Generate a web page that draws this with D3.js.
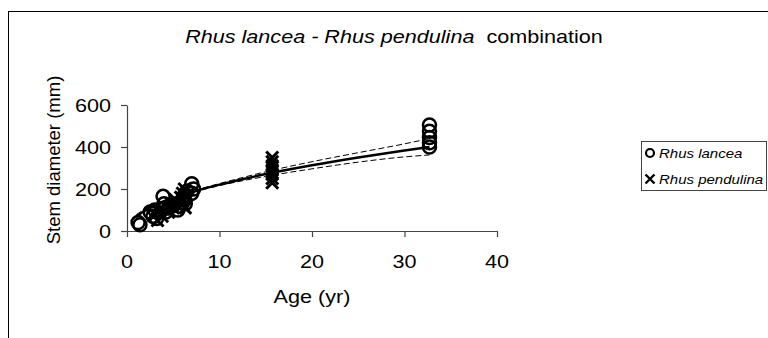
<!DOCTYPE html>
<html>
<head>
<meta charset="utf-8">
<script src="https://cdn.jsdelivr.net/npm/d3@7"></script>
<style>
  body { margin: 0; background: #fff; }
  text { font-family: "Liberation Sans", Arial, sans-serif; fill: #000; }
</style>
</head>
<body>
<script>
// Rhus lancea (circles)
var lanceaAge = [1.2, 1.4, 2.5, 2.8, 3.0, 3.2, 3.9, 4.0, 4.2, 4.5, 5.0, 5.5, 6.0, 6.2, 6.3, 6.5, 7.0, 7.0, 7.2, 32.7, 32.7, 32.7, 32.7, 32.7];
var lanceaDiam = [40, 30, 90, 70, 100, 60, 165, 130, 90, 110, 120, 100, 150, 170, 130, 190, 225, 180, 200, 400, 420, 445, 475, 505];

// Rhus pendulina (crosses)
var pendulinaAge = [3.0, 3.3, 3.5, 3.8, 4.5, 4.8, 5.0, 5.2, 5.5, 5.8, 6.0, 6.0, 6.2, 6.3, 6.5, 15.7, 15.7, 15.7, 15.7, 15.7, 15.7, 15.7];
var pendulinaDiam = [80, 50, 100, 70, 90, 130, 110, 150, 120, 160, 180, 140, 200, 110, 170, 230, 250, 270, 290, 310, 330, 350];

// fitted curve and confidence limits
var fitAge = [1, 2, 4, 6, 8, 10, 12, 15, 20, 25, 30, 32.7];
var fitMid = [70, 99, 140, 171, 198, 221, 242, 271, 313, 350, 383, 400];
var fitUpper = [78, 106, 146, 176, 202, 226, 249, 282, 330, 373, 415, 440];
var fitLower = [62, 92, 134, 166, 194, 216, 235, 260, 296, 328, 353, 362];

var xTicks = [0, 10, 20, 30, 40];
var yTicks = [0, 200, 400, 600];

// the chart picture is stretched sideways a little
var sx = 1.2;

var svg = d3.select("body").append("svg")
    .attr("width", 768)
    .attr("height", 338);

// outer frame
svg.append("rect")
    .attr("x", 8.5).attr("y", 11.5)
    .attr("width", 800).attr("height", 400)
    .attr("fill", "none").attr("stroke", "#000").attr("stroke-width", 1);

var xScale = d3.scaleLinear().domain([0, 40]).range([127, 497]);
var yScale = d3.scaleLinear().domain([0, 600]).range([231, 105]);

var xAxis = svg.append("g")
    .attr("transform", "translate(0,231)")
    .call(d3.axisBottom(xScale).tickValues(xTicks).tickSize(6).tickSizeOuter(0).tickFormat(""));
var yAxis = svg.append("g")
    .attr("transform", "translate(127,0)")
    .call(d3.axisLeft(yScale).tickValues(yTicks).tickSize(6).tickSizeOuter(0).tickFormat(""));

[xAxis, yAxis].forEach(function(ax) {
    ax.selectAll("path, line").attr("stroke", "#444").attr("stroke-width", 1.2);
});

function stretchText(x, y, anchor, size) {
    return svg.append("text")
        .attr("transform", "translate(" + x + "," + y + ") scale(" + sx + ",1)")
        .attr("text-anchor", anchor)
        .style("font-size", size + "px");
}

xTicks.forEach(function(t) {
    stretchText(xScale(t), 268, "middle", 18).text(t);
});
yTicks.forEach(function(t) {
    stretchText(111, yScale(t) + 6.5, "end", 18).text(t);
});

// fit lines
var line = d3.line()
    .x(function(d) { return xScale(d[0]); })
    .y(function(d) { return yScale(d[1]); })
    .curve(d3.curveMonotoneX);

[fitUpper, fitLower].forEach(function(arr) {
    svg.append("path")
        .datum(fitAge.map(function(a, i) { return [a, arr[i]]; }))
        .attr("d", line)
        .attr("fill", "none").attr("stroke", "#000")
        .attr("stroke-width", 1).attr("stroke-dasharray", "6,3");
});

svg.append("path")
    .datum(fitAge.map(function(a, i) { return [a, fitMid[i]]; }))
    .attr("d", line)
    .attr("fill", "none").attr("stroke", "#000").attr("stroke-width", 2.5);

// circles
svg.append("g").selectAll("circle")
    .data(lanceaAge.map(function(a, i) { return [a, lanceaDiam[i]]; }))
    .join("circle")
    .attr("cx", function(d) { return xScale(d[0]); })
    .attr("cy", function(d) { return yScale(d[1]); })
    .attr("r", 6.5)
    .attr("fill", "none").attr("stroke", "#000").attr("stroke-width", 2.5);

// crosses
var xs = 6;
svg.append("g").selectAll("path")
    .data(pendulinaAge.map(function(a, i) { return [a, pendulinaDiam[i]]; }))
    .join("path")
    .attr("transform", function(d) { return "translate(" + xScale(d[0]) + "," + yScale(d[1]) + ")"; })
    .attr("d", "M" + -xs + "," + -xs + "L" + xs + "," + xs + "M" + -xs + "," + xs + "L" + xs + "," + -xs)
    .attr("stroke", "#000").attr("stroke-width", 3);

// title
var title = stretchText(394, 43, "middle", 18);
title.append("tspan").attr("font-style", "italic").text("Rhus lancea - Rhus pendulina");
title.append("tspan").text("\u00a0 combination");

// axis titles
stretchText(312, 303, "middle", 18).text("Age (yr)");

svg.append("text")
    .attr("transform", "translate(60,160) rotate(-90)")
    .attr("text-anchor", "middle")
    .style("font-size", "18.5px")
    .text("Stem diameter (mm)");

// legend
var legend = svg.append("g");
legend.append("rect")
    .attr("x", 641.5).attr("y", 141.5)
    .attr("width", 125).attr("height", 49)
    .attr("fill", "#fff").attr("stroke", "#444").attr("stroke-width", 1);
legend.append("circle")
    .attr("cx", 650).attr("cy", 153).attr("r", 4)
    .attr("fill", "none").attr("stroke", "#000").attr("stroke-width", 2.2);
var ls = 4.5;
legend.append("path")
    .attr("transform", "translate(650,179)")
    .attr("d", "M" + -ls + "," + -ls + "L" + ls + "," + ls + "M" + -ls + "," + ls + "L" + ls + "," + -ls)
    .attr("stroke", "#000").attr("stroke-width", 2.4);
legend.append("text")
    .attr("transform", "translate(659,158) scale(" + sx + ",1)")
    .attr("font-style", "italic").style("font-size", "12.5px")
    .text("Rhus lancea");
legend.append("text")
    .attr("transform", "translate(659,184) scale(" + sx + ",1)")
    .attr("font-style", "italic").style("font-size", "12.5px")
    .text("Rhus pendulina");
</script>
</body>
</html>
